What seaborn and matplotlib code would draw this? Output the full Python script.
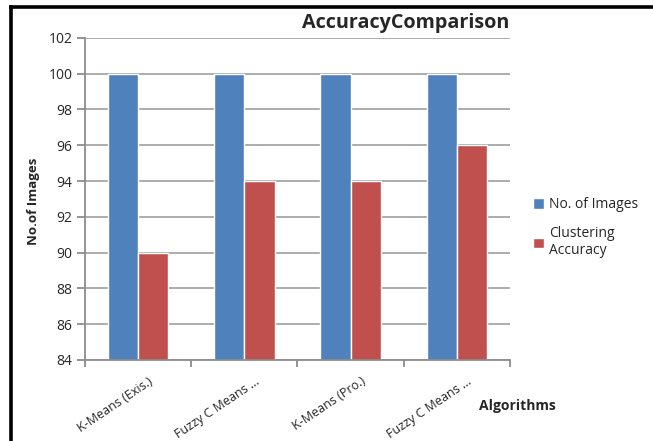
import matplotlib
matplotlib.use("Agg")
import matplotlib.pyplot as plt
import seaborn as sns
import pandas as pd
from matplotlib.lines import Line2D
from matplotlib.transforms import ScaledTranslation

categories = ["K-Means (Exis.)", "Fuzzy C Means ...", "K-Means (Pro.)", "Fuzzy C Means ..."]
cat_ids = ["c1", "c2", "c3", "c4"]
series_names = ["No. of Images", "Clustering\nAccuracy"]
no_of_images = [100, 100, 100, 100]
clustering_accuracy = [90, 94, 94, 96]
yticks = [84, 86, 88, 90, 92, 94, 96, 98, 100, 102]

sns.set_theme(style="white")
plt.rcParams['font.family'] = ['Open Sans', 'DejaVu Sans']

df = pd.DataFrame({
    "cat": cat_ids * 2,
    "series": [series_names[0]] * 4 + [series_names[1]] * 4,
    "value": no_of_images + clustering_accuracy,
})

fig = plt.figure(figsize=(6.53, 4.41), dpi=100)
ax = fig.add_axes([0.130, 0.184, 0.651, 0.730])
sns.barplot(data=df, x="cat", y="value", hue="series", order=cat_ids,
            hue_order=series_names, palette=["#4F81BD", "#C0504D"],
            width=0.57, saturation=1, ax=ax, legend=True)

ax.set_ylim(84, 102)
ax.set_xlim(-0.5, 3.5)
ax.set_yticks(yticks)
ax.set_yticklabels([str(v) for v in yticks], fontsize=10)
ax.yaxis.grid(True, color="#A6A6A6", linewidth=1.3)
ax.set_axisbelow(True)
for s in ["top", "right"]:
    ax.spines[s].set_visible(False)
for s in ["left", "bottom"]:
    ax.spines[s].set_color("#8C8C8C")
    ax.spines[s].set_linewidth(1.3)
ax.tick_params(axis="y", which="major", length=6, width=1.3, color="#8C8C8C", left=True, pad=3)
ax.set_xticks(range(4))
ax.set_xticklabels(categories, rotation=34, ha="right", va="top",
                   rotation_mode="anchor", fontsize=9)
ax.tick_params(axis="x", which="major", length=0, pad=2)
for lbl in ax.get_xticklabels():
    lbl.set_transform(lbl.get_transform() + ScaledTranslation(0.10, -0.12, fig.dpi_scale_trans))
ax.set_xticks([-0.5, 0.5, 1.5, 2.5, 3.5], minor=True)
ax.tick_params(axis="x", which="minor", length=5, width=1.3, color="#8C8C8C", bottom=True)
ax.set_xlabel("")
ax.set_ylabel("")

fig.text(0.622, 0.948, "AccuracyComparison", ha="center", va="center",
         fontsize=14.2, fontweight="bold")
fig.text(0.792, 0.080, "Algorithms", ha="center", va="center",
         fontsize=10, fontweight="bold")
fig.text(0.052, 0.544, "No.of Images", ha="center", va="center",
         rotation=90, fontsize=9.5, fontweight="bold", fontstretch="condensed")

leg = ax.legend(loc="center left", bbox_to_anchor=(1.025, 0.41), frameon=False,
                fontsize=10, handlelength=0.75, handleheight=0.75, labelspacing=1.0,
                handletextpad=0.4)

# outer black frame (left and top visible)
fig.add_artist(Line2D([0.0168, 0.0168], [0.0, 0.984], transform=fig.transFigure,
                      color="black", linewidth=2.6, solid_capstyle="projecting"))
fig.add_artist(Line2D([0.0168, 1.0], [0.984, 0.984], transform=fig.transFigure,
                      color="black", linewidth=2.6, solid_capstyle="projecting"))

fig.savefig("out.png", dpi=100)
